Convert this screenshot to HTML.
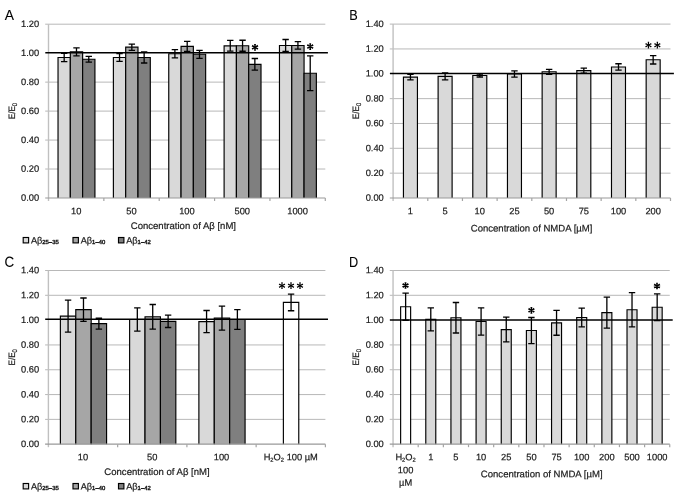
<!DOCTYPE html>
<html><head><meta charset="utf-8"><title>Figure</title>
<style>
html,body{margin:0;padding:0;background:#fff;}
body{width:685px;height:502px;overflow:hidden;font-family:"Liberation Sans", sans-serif;}
svg text{stroke:#1a1a1a;stroke-width:0.2px;}
svg{display:block;will-change:transform;font-family:"Liberation Sans", sans-serif;}
</style></head><body>
<svg width="685" height="502" viewBox="0 0 685 502">
<rect x="0" y="0" width="685" height="502" fill="#ffffff"/>
<line x1="45.20" y1="169.03" x2="325.30" y2="169.03" stroke="#a6a6a6" stroke-width="0.8"/>
<line x1="45.20" y1="140.07" x2="325.30" y2="140.07" stroke="#a6a6a6" stroke-width="0.8"/>
<line x1="45.20" y1="111.10" x2="325.30" y2="111.10" stroke="#a6a6a6" stroke-width="0.8"/>
<line x1="45.20" y1="82.13" x2="325.30" y2="82.13" stroke="#a6a6a6" stroke-width="0.8"/>
<line x1="45.20" y1="24.20" x2="325.30" y2="24.20" stroke="#a6a6a6" stroke-width="0.8"/>
<text transform="rotate(0.03 39.20 200.85)" x="39.20" y="200.85" font-size="9.3" text-anchor="end" fill="#1a1a1a">0.00</text>
<text transform="rotate(0.03 39.20 171.88)" x="39.20" y="171.88" font-size="9.3" text-anchor="end" fill="#1a1a1a">0.20</text>
<text transform="rotate(0.03 39.20 142.92)" x="39.20" y="142.92" font-size="9.3" text-anchor="end" fill="#1a1a1a">0.40</text>
<text transform="rotate(0.03 39.20 113.95)" x="39.20" y="113.95" font-size="9.3" text-anchor="end" fill="#1a1a1a">0.60</text>
<text transform="rotate(0.03 39.20 84.98)" x="39.20" y="84.98" font-size="9.3" text-anchor="end" fill="#1a1a1a">0.80</text>
<text transform="rotate(0.03 39.20 56.02)" x="39.20" y="56.02" font-size="9.3" text-anchor="end" fill="#1a1a1a">1.00</text>
<text transform="rotate(0.03 39.20 27.05)" x="39.20" y="27.05" font-size="9.3" text-anchor="end" fill="#1a1a1a">1.20</text>
<text transform="translate(4.8,20.1) rotate(0.03) scale(0.95,1)" font-size="14.6" fill="#000" style="stroke-width:0.1px">A</text>
<text transform="translate(14.80,111.10) rotate(-90.03)" font-size="9.3" text-anchor="middle" textLength="16.4" lengthAdjust="spacingAndGlyphs" fill="#1a1a1a">E/E<tspan font-size="6.6" dy="1.9">0</tspan></text>
<rect x="58.03" y="57.48" width="12.30" height="140.52" fill="#d9d9d9"/>
<path d="M58.03 198.00V57.48H70.33V198.00" fill="none" stroke="#000000" stroke-width="1.15"/>
<rect x="70.33" y="51.83" width="12.30" height="146.17" fill="#a6a6a6"/>
<path d="M70.33 198.00V51.83H82.63V198.00" fill="none" stroke="#000000" stroke-width="1.15"/>
<rect x="82.63" y="59.22" width="12.30" height="138.78" fill="#7f7f7f"/>
<path d="M82.63 198.00V59.22H94.93V198.00" fill="none" stroke="#000000" stroke-width="1.15"/>
<rect x="113.39" y="57.48" width="12.30" height="140.52" fill="#d9d9d9"/>
<path d="M113.39 198.00V57.48H125.69V198.00" fill="none" stroke="#000000" stroke-width="1.15"/>
<rect x="125.69" y="47.19" width="12.30" height="150.81" fill="#a6a6a6"/>
<path d="M125.69 198.00V47.19H137.99V198.00" fill="none" stroke="#000000" stroke-width="1.15"/>
<rect x="137.99" y="57.48" width="12.30" height="140.52" fill="#7f7f7f"/>
<path d="M137.99 198.00V57.48H150.29V198.00" fill="none" stroke="#000000" stroke-width="1.15"/>
<rect x="168.75" y="53.72" width="12.30" height="144.28" fill="#d9d9d9"/>
<path d="M168.75 198.00V53.72H181.05V198.00" fill="none" stroke="#000000" stroke-width="1.15"/>
<rect x="181.05" y="46.36" width="12.30" height="151.64" fill="#a6a6a6"/>
<path d="M181.05 198.00V46.36H193.35V198.00" fill="none" stroke="#000000" stroke-width="1.15"/>
<rect x="193.35" y="54.29" width="12.30" height="143.71" fill="#7f7f7f"/>
<path d="M193.35 198.00V54.29H205.65V198.00" fill="none" stroke="#000000" stroke-width="1.15"/>
<rect x="224.11" y="45.81" width="12.30" height="152.19" fill="#d9d9d9"/>
<path d="M224.11 198.00V45.81H236.41V198.00" fill="none" stroke="#000000" stroke-width="1.15"/>
<rect x="236.41" y="45.74" width="12.30" height="152.26" fill="#a6a6a6"/>
<path d="M236.41 198.00V45.74H248.71V198.00" fill="none" stroke="#000000" stroke-width="1.15"/>
<rect x="248.71" y="64.30" width="12.30" height="133.70" fill="#7f7f7f"/>
<path d="M248.71 198.00V64.30H261.01V198.00" fill="none" stroke="#000000" stroke-width="1.15"/>
<rect x="279.47" y="45.45" width="12.30" height="152.55" fill="#d9d9d9"/>
<path d="M279.47 198.00V45.45H291.77V198.00" fill="none" stroke="#000000" stroke-width="1.15"/>
<rect x="291.77" y="45.45" width="12.30" height="152.55" fill="#a6a6a6"/>
<path d="M291.77 198.00V45.45H304.07V198.00" fill="none" stroke="#000000" stroke-width="1.15"/>
<rect x="304.07" y="73.29" width="12.30" height="124.71" fill="#7f7f7f"/>
<path d="M304.07 198.00V73.29H316.37V198.00" fill="none" stroke="#000000" stroke-width="1.15"/>
<line x1="48.50" y1="24.20" x2="48.50" y2="201.00" stroke="#c0c0c0" stroke-width="1.4"/>
<line x1="45.20" y1="198.00" x2="325.30" y2="198.00" stroke="#999999" stroke-width="1.2"/>
<line x1="103.86" y1="198.00" x2="103.86" y2="201.00" stroke="#a4a4a4" stroke-width="1.2"/>
<line x1="159.22" y1="198.00" x2="159.22" y2="201.00" stroke="#a4a4a4" stroke-width="1.2"/>
<line x1="214.58" y1="198.00" x2="214.58" y2="201.00" stroke="#a4a4a4" stroke-width="1.2"/>
<line x1="269.94" y1="198.00" x2="269.94" y2="201.00" stroke="#a4a4a4" stroke-width="1.2"/>
<line x1="325.30" y1="198.00" x2="325.30" y2="201.00" stroke="#a4a4a4" stroke-width="1.2"/>
<line x1="45.30" y1="52.80" x2="327.90" y2="52.80" stroke="#000" stroke-width="1.5"/>
<path d="M64.18 53.28V61.69M60.98 53.28H67.38M60.98 61.69H67.38" stroke="#000" stroke-width="1.3" fill="none"/>
<path d="M76.48 47.84V55.82M73.28 47.84H79.68M73.28 55.82H79.68" stroke="#000" stroke-width="1.3" fill="none"/>
<path d="M88.78 56.32V62.12M85.58 56.32H91.98M85.58 62.12H91.98" stroke="#000" stroke-width="1.3" fill="none"/>
<path d="M119.54 53.50V61.47M116.34 53.50H122.74M116.34 61.47H122.74" stroke="#000" stroke-width="1.3" fill="none"/>
<path d="M131.84 44.09V50.29M128.64 44.09H135.04M128.64 50.29H135.04" stroke="#000" stroke-width="1.3" fill="none"/>
<path d="M144.14 51.97V63.00M140.94 51.97H147.34M140.94 63.00H147.34" stroke="#000" stroke-width="1.3" fill="none"/>
<path d="M174.90 49.61V57.82M171.70 49.61H178.10M171.70 57.82H178.10" stroke="#000" stroke-width="1.3" fill="none"/>
<path d="M187.20 41.33V51.39M184.00 41.33H190.40M184.00 51.39H190.40" stroke="#000" stroke-width="1.3" fill="none"/>
<path d="M199.50 50.29V58.30M196.30 50.29H202.70M196.30 58.30H202.70" stroke="#000" stroke-width="1.3" fill="none"/>
<path d="M230.26 40.45V51.18M227.06 40.45H233.46M227.06 51.18H233.46" stroke="#000" stroke-width="1.3" fill="none"/>
<path d="M242.56 40.23V51.25M239.36 40.23H245.76M239.36 51.25H245.76" stroke="#000" stroke-width="1.3" fill="none"/>
<path d="M254.86 58.50V70.10M251.66 58.50H258.06M251.66 70.10H258.06" stroke="#000" stroke-width="1.3" fill="none"/>
<path d="M285.62 39.50V51.39M282.42 39.50H288.82M282.42 51.39H288.82" stroke="#000" stroke-width="1.3" fill="none"/>
<path d="M297.92 41.68V49.22M294.72 41.68H301.12M294.72 49.22H301.12" stroke="#000" stroke-width="1.3" fill="none"/>
<path d="M310.22 55.89V90.69M307.02 55.89H313.42M307.02 90.69H313.42" stroke="#000" stroke-width="1.3" fill="none"/>
<path d="M255.45 47.30L255.95 43.95L254.05 43.95L254.55 47.30ZM255.22 47.69L258.38 46.45L257.43 44.80L254.78 46.91ZM255.22 46.91L252.57 44.80L251.62 46.45L254.78 47.69ZM254.78 46.91L251.62 48.15L252.57 49.80L255.22 47.69ZM254.55 47.30L254.05 50.65L255.95 50.65L255.45 47.30ZM254.78 47.69L257.43 49.80L258.38 48.15L255.22 46.91Z" fill="#000"/>
<path d="M310.65 46.60L311.15 43.25L309.25 43.25L309.75 46.60ZM310.43 46.99L313.58 45.75L312.63 44.10L309.97 46.21ZM310.43 46.21L307.77 44.10L306.82 45.75L309.97 46.99ZM309.97 46.21L306.82 47.45L307.77 49.10L310.43 46.99ZM309.75 46.60L309.25 49.95L311.15 49.95L310.65 46.60ZM309.97 46.99L312.63 49.10L313.58 47.45L310.43 46.21Z" fill="#000"/>
<text transform="rotate(0.03 76.18 214.20)" x="76.18" y="214.20" font-size="9.3" text-anchor="middle" fill="#1a1a1a">10</text>
<text transform="rotate(0.03 131.54 214.20)" x="131.54" y="214.20" font-size="9.3" text-anchor="middle" fill="#1a1a1a">50</text>
<text transform="rotate(0.03 186.90 214.20)" x="186.90" y="214.20" font-size="9.3" text-anchor="middle" fill="#1a1a1a">100</text>
<text transform="rotate(0.03 242.26 214.20)" x="242.26" y="214.20" font-size="9.3" text-anchor="middle" fill="#1a1a1a">500</text>
<text transform="rotate(0.03 297.62 214.20)" x="297.62" y="214.20" font-size="9.3" text-anchor="middle" fill="#1a1a1a">1000</text>
<text transform="rotate(0.03 183.4 229.0)" x="183.4" y="229.0" font-size="9.55" text-anchor="middle" fill="#1a1a1a">Concentration of Aβ [nM]</text>
<rect x="23.20" y="237.50" width="5.4" height="5.4" fill="#d9d9d9" stroke="#000" stroke-width="1.15"/>
<text transform="rotate(0.03 30.90 243.40)" x="30.90" y="243.40" font-size="9.2" fill="#1a1a1a">Aβ<tspan font-size="5.9" dy="0.7" style="stroke-width:0.4px">25–35</tspan></text>
<rect x="73.00" y="237.50" width="5.4" height="5.4" fill="#a6a6a6" stroke="#000" stroke-width="1.15"/>
<text transform="rotate(0.03 80.70 243.40)" x="80.70" y="243.40" font-size="9.2" fill="#1a1a1a">Aβ<tspan font-size="5.9" dy="0.7" style="stroke-width:0.4px">1–40</tspan></text>
<rect x="118.50" y="237.50" width="5.4" height="5.4" fill="#7f7f7f" stroke="#000" stroke-width="1.15"/>
<text transform="rotate(0.03 126.20 243.40)" x="126.20" y="243.40" font-size="9.2" fill="#1a1a1a">Aβ<tspan font-size="5.9" dy="0.7" style="stroke-width:0.4px">1–42</tspan></text>
<line x1="389.80" y1="173.16" x2="670.50" y2="173.16" stroke="#a6a6a6" stroke-width="0.8"/>
<line x1="389.80" y1="148.31" x2="670.50" y2="148.31" stroke="#a6a6a6" stroke-width="0.8"/>
<line x1="389.80" y1="123.47" x2="670.50" y2="123.47" stroke="#a6a6a6" stroke-width="0.8"/>
<line x1="389.80" y1="98.63" x2="670.50" y2="98.63" stroke="#a6a6a6" stroke-width="0.8"/>
<line x1="389.80" y1="48.94" x2="670.50" y2="48.94" stroke="#a6a6a6" stroke-width="0.8"/>
<line x1="389.80" y1="24.10" x2="670.50" y2="24.10" stroke="#a6a6a6" stroke-width="0.8"/>
<text transform="rotate(0.03 383.80 200.85)" x="383.80" y="200.85" font-size="9.3" text-anchor="end" fill="#1a1a1a">0.00</text>
<text transform="rotate(0.03 383.80 176.01)" x="383.80" y="176.01" font-size="9.3" text-anchor="end" fill="#1a1a1a">0.20</text>
<text transform="rotate(0.03 383.80 151.16)" x="383.80" y="151.16" font-size="9.3" text-anchor="end" fill="#1a1a1a">0.40</text>
<text transform="rotate(0.03 383.80 126.32)" x="383.80" y="126.32" font-size="9.3" text-anchor="end" fill="#1a1a1a">0.60</text>
<text transform="rotate(0.03 383.80 101.48)" x="383.80" y="101.48" font-size="9.3" text-anchor="end" fill="#1a1a1a">0.80</text>
<text transform="rotate(0.03 383.80 76.64)" x="383.80" y="76.64" font-size="9.3" text-anchor="end" fill="#1a1a1a">1.00</text>
<text transform="rotate(0.03 383.80 51.79)" x="383.80" y="51.79" font-size="9.3" text-anchor="end" fill="#1a1a1a">1.20</text>
<text transform="rotate(0.03 383.80 26.95)" x="383.80" y="26.95" font-size="9.3" text-anchor="end" fill="#1a1a1a">1.40</text>
<text transform="translate(349.3,20.2) rotate(0.03) scale(0.87,1)" font-size="14.6" fill="#000" style="stroke-width:0.1px">B</text>
<text transform="translate(359.40,111.05) rotate(-90.03)" font-size="9.3" text-anchor="middle" textLength="16.4" lengthAdjust="spacingAndGlyphs" fill="#1a1a1a">E/E<tspan font-size="6.6" dy="1.9">0</tspan></text>
<rect x="403.44" y="77.12" width="14.00" height="120.88" fill="#d9d9d9"/>
<path d="M403.44 198.00V77.12H417.44V198.00" fill="none" stroke="#000000" stroke-width="1.15"/>
<rect x="438.11" y="76.38" width="14.00" height="121.62" fill="#d9d9d9"/>
<path d="M438.11 198.00V76.38H452.11V198.00" fill="none" stroke="#000000" stroke-width="1.15"/>
<rect x="472.79" y="75.51" width="14.00" height="122.49" fill="#d9d9d9"/>
<path d="M472.79 198.00V75.51H486.79V198.00" fill="none" stroke="#000000" stroke-width="1.15"/>
<rect x="507.46" y="74.02" width="14.00" height="123.98" fill="#d9d9d9"/>
<path d="M507.46 198.00V74.02H521.46V198.00" fill="none" stroke="#000000" stroke-width="1.15"/>
<rect x="542.14" y="71.79" width="14.00" height="126.21" fill="#d9d9d9"/>
<path d="M542.14 198.00V71.79H556.14V198.00" fill="none" stroke="#000000" stroke-width="1.15"/>
<rect x="576.81" y="70.67" width="14.00" height="127.33" fill="#d9d9d9"/>
<path d="M576.81 198.00V70.67H590.81V198.00" fill="none" stroke="#000000" stroke-width="1.15"/>
<rect x="611.49" y="66.95" width="14.00" height="131.05" fill="#d9d9d9"/>
<path d="M611.49 198.00V66.95H625.49V198.00" fill="none" stroke="#000000" stroke-width="1.15"/>
<rect x="646.16" y="59.76" width="14.00" height="138.24" fill="#d9d9d9"/>
<path d="M646.16 198.00V59.76H660.16V198.00" fill="none" stroke="#000000" stroke-width="1.15"/>
<line x1="393.10" y1="24.10" x2="393.10" y2="201.00" stroke="#c0c0c0" stroke-width="1.4"/>
<line x1="389.80" y1="198.00" x2="670.50" y2="198.00" stroke="#999999" stroke-width="1.2"/>
<line x1="427.78" y1="198.00" x2="427.78" y2="201.00" stroke="#a4a4a4" stroke-width="1.2"/>
<line x1="462.45" y1="198.00" x2="462.45" y2="201.00" stroke="#a4a4a4" stroke-width="1.2"/>
<line x1="497.12" y1="198.00" x2="497.12" y2="201.00" stroke="#a4a4a4" stroke-width="1.2"/>
<line x1="531.80" y1="198.00" x2="531.80" y2="201.00" stroke="#a4a4a4" stroke-width="1.2"/>
<line x1="566.48" y1="198.00" x2="566.48" y2="201.00" stroke="#a4a4a4" stroke-width="1.2"/>
<line x1="601.15" y1="198.00" x2="601.15" y2="201.00" stroke="#a4a4a4" stroke-width="1.2"/>
<line x1="635.83" y1="198.00" x2="635.83" y2="201.00" stroke="#a4a4a4" stroke-width="1.2"/>
<line x1="670.50" y1="198.00" x2="670.50" y2="201.00" stroke="#a4a4a4" stroke-width="1.2"/>
<line x1="389.90" y1="73.55" x2="673.90" y2="73.55" stroke="#000" stroke-width="1.5"/>
<path d="M410.44 74.39V79.85M407.24 74.39H413.64M407.24 79.85H413.64" stroke="#000" stroke-width="1.3" fill="none"/>
<path d="M445.11 72.90V79.85M441.91 72.90H448.31M441.91 79.85H448.31" stroke="#000" stroke-width="1.3" fill="none"/>
<path d="M479.79 74.02V77.00M476.59 74.02H482.99M476.59 77.00H482.99" stroke="#000" stroke-width="1.3" fill="none"/>
<path d="M514.46 70.92V77.12M511.26 70.92H517.66M511.26 77.12H517.66" stroke="#000" stroke-width="1.3" fill="none"/>
<path d="M549.14 69.31V74.27M545.94 69.31H552.34M545.94 74.27H552.34" stroke="#000" stroke-width="1.3" fill="none"/>
<path d="M583.81 68.19V73.15M580.61 68.19H587.01M580.61 73.15H587.01" stroke="#000" stroke-width="1.3" fill="none"/>
<path d="M618.49 63.73V70.18M615.29 63.73H621.69M615.29 70.18H621.69" stroke="#000" stroke-width="1.3" fill="none"/>
<path d="M653.16 55.54V63.98M649.96 55.54H656.36M649.96 63.98H656.36" stroke="#000" stroke-width="1.3" fill="none"/>
<path d="M648.85 45.20L649.17 41.85L647.73 41.85L648.05 45.20ZM648.65 45.55L651.71 44.15L650.99 42.90L648.25 44.85ZM648.65 44.85L645.91 42.90L645.19 44.15L648.25 45.55ZM648.25 44.85L645.19 46.25L645.91 47.50L648.65 45.55ZM648.05 45.20L647.73 48.55L649.17 48.55L648.85 45.20ZM648.25 45.55L650.99 47.50L651.71 46.25L648.65 44.85Z" fill="#000"/>
<path d="M657.75 45.20L658.07 41.85L656.63 41.85L656.95 45.20ZM657.55 45.55L660.61 44.15L659.89 42.90L657.15 44.85ZM657.55 44.85L654.81 42.90L654.09 44.15L657.15 45.55ZM657.15 44.85L654.09 46.25L654.81 47.50L657.55 45.55ZM656.95 45.20L656.63 48.55L658.07 48.55L657.75 45.20ZM657.15 45.55L659.89 47.50L660.61 46.25L657.55 44.85Z" fill="#000"/>
<text transform="rotate(0.03 410.44 214.20)" x="410.44" y="214.20" font-size="9.3" text-anchor="middle" fill="#1a1a1a">1</text>
<text transform="rotate(0.03 445.11 214.20)" x="445.11" y="214.20" font-size="9.3" text-anchor="middle" fill="#1a1a1a">5</text>
<text transform="rotate(0.03 479.79 214.20)" x="479.79" y="214.20" font-size="9.3" text-anchor="middle" fill="#1a1a1a">10</text>
<text transform="rotate(0.03 514.46 214.20)" x="514.46" y="214.20" font-size="9.3" text-anchor="middle" fill="#1a1a1a">25</text>
<text transform="rotate(0.03 549.14 214.20)" x="549.14" y="214.20" font-size="9.3" text-anchor="middle" fill="#1a1a1a">50</text>
<text transform="rotate(0.03 583.81 214.20)" x="583.81" y="214.20" font-size="9.3" text-anchor="middle" fill="#1a1a1a">75</text>
<text transform="rotate(0.03 618.49 214.20)" x="618.49" y="214.20" font-size="9.3" text-anchor="middle" fill="#1a1a1a">100</text>
<text transform="rotate(0.03 653.16 214.20)" x="653.16" y="214.20" font-size="9.3" text-anchor="middle" fill="#1a1a1a">200</text>
<text transform="rotate(0.03 531.6 231.6)" x="531.6" y="231.6" font-size="9.55" text-anchor="middle" fill="#1a1a1a">Concentration of NMDA [µM]</text>
<line x1="45.10" y1="419.39" x2="325.40" y2="419.39" stroke="#a6a6a6" stroke-width="0.8"/>
<line x1="45.10" y1="394.57" x2="325.40" y2="394.57" stroke="#a6a6a6" stroke-width="0.8"/>
<line x1="45.10" y1="369.76" x2="325.40" y2="369.76" stroke="#a6a6a6" stroke-width="0.8"/>
<line x1="45.10" y1="344.94" x2="325.40" y2="344.94" stroke="#a6a6a6" stroke-width="0.8"/>
<line x1="45.10" y1="295.31" x2="325.40" y2="295.31" stroke="#a6a6a6" stroke-width="0.8"/>
<line x1="45.10" y1="270.50" x2="325.40" y2="270.50" stroke="#a6a6a6" stroke-width="0.8"/>
<text transform="rotate(0.03 39.10 447.05)" x="39.10" y="447.05" font-size="9.3" text-anchor="end" fill="#1a1a1a">0.00</text>
<text transform="rotate(0.03 39.10 422.24)" x="39.10" y="422.24" font-size="9.3" text-anchor="end" fill="#1a1a1a">0.20</text>
<text transform="rotate(0.03 39.10 397.42)" x="39.10" y="397.42" font-size="9.3" text-anchor="end" fill="#1a1a1a">0.40</text>
<text transform="rotate(0.03 39.10 372.61)" x="39.10" y="372.61" font-size="9.3" text-anchor="end" fill="#1a1a1a">0.60</text>
<text transform="rotate(0.03 39.10 347.79)" x="39.10" y="347.79" font-size="9.3" text-anchor="end" fill="#1a1a1a">0.80</text>
<text transform="rotate(0.03 39.10 322.98)" x="39.10" y="322.98" font-size="9.3" text-anchor="end" fill="#1a1a1a">1.00</text>
<text transform="rotate(0.03 39.10 298.16)" x="39.10" y="298.16" font-size="9.3" text-anchor="end" fill="#1a1a1a">1.20</text>
<text transform="rotate(0.03 39.10 273.35)" x="39.10" y="273.35" font-size="9.3" text-anchor="end" fill="#1a1a1a">1.40</text>
<text transform="translate(4.4,266.8) rotate(0.03) scale(0.92,1)" font-size="14.6" fill="#000" style="stroke-width:0.1px">C</text>
<text transform="translate(14.70,357.35) rotate(-90.03)" font-size="9.3" text-anchor="middle" textLength="16.4" lengthAdjust="spacingAndGlyphs" fill="#1a1a1a">E/E<tspan font-size="6.6" dy="1.9">0</tspan></text>
<rect x="60.38" y="316.18" width="15.40" height="128.02" fill="#d9d9d9"/>
<path d="M60.38 444.20V316.18H75.78V444.20" fill="none" stroke="#000000" stroke-width="1.15"/>
<rect x="75.78" y="309.66" width="15.40" height="134.54" fill="#a6a6a6"/>
<path d="M75.78 444.20V309.66H91.18V444.20" fill="none" stroke="#000000" stroke-width="1.15"/>
<rect x="91.17" y="323.68" width="15.40" height="120.52" fill="#7f7f7f"/>
<path d="M91.17 444.20V323.68H106.58V444.20" fill="none" stroke="#000000" stroke-width="1.15"/>
<rect x="129.62" y="319.50" width="15.40" height="124.70" fill="#d9d9d9"/>
<path d="M129.62 444.20V319.50H145.03V444.20" fill="none" stroke="#000000" stroke-width="1.15"/>
<rect x="145.03" y="316.79" width="15.40" height="127.41" fill="#a6a6a6"/>
<path d="M145.03 444.20V316.79H160.43V444.20" fill="none" stroke="#000000" stroke-width="1.15"/>
<rect x="160.43" y="321.35" width="15.40" height="122.85" fill="#7f7f7f"/>
<path d="M160.43 444.20V321.35H175.83V444.20" fill="none" stroke="#000000" stroke-width="1.15"/>
<rect x="198.88" y="321.59" width="15.40" height="122.61" fill="#d9d9d9"/>
<path d="M198.88 444.20V321.59H214.28V444.20" fill="none" stroke="#000000" stroke-width="1.15"/>
<rect x="214.28" y="318.15" width="15.40" height="126.05" fill="#a6a6a6"/>
<path d="M214.28 444.20V318.15H229.68V444.20" fill="none" stroke="#000000" stroke-width="1.15"/>
<rect x="229.68" y="319.50" width="15.40" height="124.70" fill="#7f7f7f"/>
<path d="M229.68 444.20V319.50H245.08V444.20" fill="none" stroke="#000000" stroke-width="1.15"/>
<rect x="283.38" y="302.40" width="15.40" height="141.80" fill="#ffffff"/>
<path d="M283.38 444.20V302.40H298.77V444.20" fill="none" stroke="#000000" stroke-width="1.15"/>
<line x1="48.40" y1="270.50" x2="48.40" y2="447.20" stroke="#c0c0c0" stroke-width="1.4"/>
<line x1="45.10" y1="444.20" x2="325.40" y2="444.20" stroke="#999999" stroke-width="1.2"/>
<line x1="117.65" y1="444.20" x2="117.65" y2="447.20" stroke="#a4a4a4" stroke-width="1.2"/>
<line x1="186.90" y1="444.20" x2="186.90" y2="447.20" stroke="#a4a4a4" stroke-width="1.2"/>
<line x1="256.15" y1="444.20" x2="256.15" y2="447.20" stroke="#a4a4a4" stroke-width="1.2"/>
<line x1="325.40" y1="444.20" x2="325.40" y2="447.20" stroke="#a4a4a4" stroke-width="1.2"/>
<line x1="45.20" y1="319.30" x2="328.00" y2="319.30" stroke="#000" stroke-width="1.5"/>
<path d="M68.08 300.19V332.17M64.88 300.19H71.28M64.88 332.17H71.28" stroke="#000" stroke-width="1.3" fill="none"/>
<path d="M83.48 297.98V321.34M80.28 297.98H86.68M80.28 321.34H86.68" stroke="#000" stroke-width="1.3" fill="none"/>
<path d="M98.88 318.27V329.09M95.67 318.27H102.08M95.67 329.09H102.08" stroke="#000" stroke-width="1.3" fill="none"/>
<path d="M137.32 307.81V331.19M134.12 307.81H140.52M134.12 331.19H140.52" stroke="#000" stroke-width="1.3" fill="none"/>
<path d="M152.72 304.49V329.09M149.53 304.49H155.92M149.53 329.09H155.92" stroke="#000" stroke-width="1.3" fill="none"/>
<path d="M168.12 315.19V327.50M164.93 315.19H171.32M164.93 327.50H171.32" stroke="#000" stroke-width="1.3" fill="none"/>
<path d="M206.57 310.52V332.66M203.38 310.52H209.77M203.38 332.66H209.77" stroke="#000" stroke-width="1.3" fill="none"/>
<path d="M221.97 306.09V330.20M218.78 306.09H225.17M218.78 330.20H225.17" stroke="#000" stroke-width="1.3" fill="none"/>
<path d="M237.38 309.66V329.34M234.18 309.66H240.57M234.18 329.34H240.57" stroke="#000" stroke-width="1.3" fill="none"/>
<path d="M291.07 294.04V310.77M287.88 294.04H294.27M287.88 310.77H294.27" stroke="#000" stroke-width="1.3" fill="none"/>
<path d="M282.40 285.70L282.72 282.35L281.28 282.35L281.60 285.70ZM282.20 286.05L285.26 284.65L284.54 283.40L281.80 285.35ZM282.20 285.35L279.46 283.40L278.74 284.65L281.80 286.05ZM281.80 285.35L278.74 286.75L279.46 288.00L282.20 286.05ZM281.60 285.70L281.28 289.05L282.72 289.05L282.40 285.70ZM281.80 286.05L284.54 288.00L285.26 286.75L282.20 285.35Z" fill="#000"/>
<path d="M291.40 285.70L291.72 282.35L290.28 282.35L290.60 285.70ZM291.20 286.05L294.26 284.65L293.54 283.40L290.80 285.35ZM291.20 285.35L288.46 283.40L287.74 284.65L290.80 286.05ZM290.80 285.35L287.74 286.75L288.46 288.00L291.20 286.05ZM290.60 285.70L290.28 289.05L291.72 289.05L291.40 285.70ZM290.80 286.05L293.54 288.00L294.26 286.75L291.20 285.35Z" fill="#000"/>
<path d="M300.40 285.70L300.72 282.35L299.28 282.35L299.60 285.70ZM300.20 286.05L303.26 284.65L302.54 283.40L299.80 285.35ZM300.20 285.35L297.46 283.40L296.74 284.65L299.80 286.05ZM299.80 285.35L296.74 286.75L297.46 288.00L300.20 286.05ZM299.60 285.70L299.28 289.05L300.72 289.05L300.40 285.70ZM299.80 286.05L302.54 288.00L303.26 286.75L300.20 285.35Z" fill="#000"/>
<text transform="rotate(0.03 83.03 460.20)" x="83.03" y="460.20" font-size="9.3" text-anchor="middle" fill="#1a1a1a">10</text>
<text transform="rotate(0.03 152.28 460.20)" x="152.28" y="460.20" font-size="9.3" text-anchor="middle" fill="#1a1a1a">50</text>
<text transform="rotate(0.03 221.53 460.20)" x="221.53" y="460.20" font-size="9.3" text-anchor="middle" fill="#1a1a1a">100</text>
<text transform="rotate(0.03 290.77 460.20)" x="290.77" y="460.20" font-size="9.3" text-anchor="middle" fill="#1a1a1a">H<tspan font-size="5.8" dy="1.6">2</tspan><tspan dy="-1.6">O</tspan><tspan font-size="5.8" dy="1.6">2</tspan><tspan dy="-1.6"> 100 µM</tspan></text>
<text transform="rotate(0.03 157 475.0)" x="157" y="475.0" font-size="9.55" text-anchor="middle" fill="#1a1a1a">Concentration of Aβ [nM]</text>
<rect x="23.20" y="483.50" width="5.4" height="5.4" fill="#d9d9d9" stroke="#000" stroke-width="1.15"/>
<text transform="rotate(0.03 30.90 489.40)" x="30.90" y="489.40" font-size="9.2" fill="#1a1a1a">Aβ<tspan font-size="5.9" dy="0.7" style="stroke-width:0.4px">25–35</tspan></text>
<rect x="73.00" y="483.50" width="5.4" height="5.4" fill="#a6a6a6" stroke="#000" stroke-width="1.15"/>
<text transform="rotate(0.03 80.70 489.40)" x="80.70" y="489.40" font-size="9.2" fill="#1a1a1a">Aβ<tspan font-size="5.9" dy="0.7" style="stroke-width:0.4px">1–40</tspan></text>
<rect x="118.50" y="483.50" width="5.4" height="5.4" fill="#7f7f7f" stroke="#000" stroke-width="1.15"/>
<text transform="rotate(0.03 126.20 489.40)" x="126.20" y="489.40" font-size="9.2" fill="#1a1a1a">Aβ<tspan font-size="5.9" dy="0.7" style="stroke-width:0.4px">1–42</tspan></text>
<line x1="389.75" y1="419.34" x2="669.75" y2="419.34" stroke="#a6a6a6" stroke-width="0.8"/>
<line x1="389.75" y1="394.54" x2="669.75" y2="394.54" stroke="#a6a6a6" stroke-width="0.8"/>
<line x1="389.75" y1="369.73" x2="669.75" y2="369.73" stroke="#a6a6a6" stroke-width="0.8"/>
<line x1="389.75" y1="344.92" x2="669.75" y2="344.92" stroke="#a6a6a6" stroke-width="0.8"/>
<line x1="389.75" y1="295.31" x2="669.75" y2="295.31" stroke="#a6a6a6" stroke-width="0.8"/>
<line x1="389.75" y1="270.50" x2="669.75" y2="270.50" stroke="#a6a6a6" stroke-width="0.8"/>
<text transform="rotate(0.03 383.75 447.00)" x="383.75" y="447.00" font-size="9.3" text-anchor="end" fill="#1a1a1a">0.00</text>
<text transform="rotate(0.03 383.75 422.19)" x="383.75" y="422.19" font-size="9.3" text-anchor="end" fill="#1a1a1a">0.20</text>
<text transform="rotate(0.03 383.75 397.39)" x="383.75" y="397.39" font-size="9.3" text-anchor="end" fill="#1a1a1a">0.40</text>
<text transform="rotate(0.03 383.75 372.58)" x="383.75" y="372.58" font-size="9.3" text-anchor="end" fill="#1a1a1a">0.60</text>
<text transform="rotate(0.03 383.75 347.77)" x="383.75" y="347.77" font-size="9.3" text-anchor="end" fill="#1a1a1a">0.80</text>
<text transform="rotate(0.03 383.75 322.96)" x="383.75" y="322.96" font-size="9.3" text-anchor="end" fill="#1a1a1a">1.00</text>
<text transform="rotate(0.03 383.75 298.16)" x="383.75" y="298.16" font-size="9.3" text-anchor="end" fill="#1a1a1a">1.20</text>
<text transform="rotate(0.03 383.75 273.35)" x="383.75" y="273.35" font-size="9.3" text-anchor="end" fill="#1a1a1a">1.40</text>
<text transform="translate(349.0,266.8) rotate(0.03) scale(0.87,1)" font-size="14.6" fill="#000" style="stroke-width:0.1px">D</text>
<text transform="translate(359.35,357.32) rotate(-90.03)" font-size="9.3" text-anchor="middle" textLength="16.4" lengthAdjust="spacingAndGlyphs" fill="#1a1a1a">E/E<tspan font-size="6.6" dy="1.9">0</tspan></text>
<rect x="400.63" y="306.73" width="10.00" height="137.42" fill="#ffffff"/>
<path d="M400.63 444.15V306.73H410.63V444.15" fill="none" stroke="#000000" stroke-width="1.15"/>
<rect x="425.78" y="319.38" width="10.00" height="124.77" fill="#d9d9d9"/>
<path d="M425.78 444.15V319.38H435.78V444.15" fill="none" stroke="#000000" stroke-width="1.15"/>
<rect x="450.94" y="317.77" width="10.00" height="126.38" fill="#d9d9d9"/>
<path d="M450.94 444.15V317.77H460.94V444.15" fill="none" stroke="#000000" stroke-width="1.15"/>
<rect x="476.09" y="321.49" width="10.00" height="122.66" fill="#d9d9d9"/>
<path d="M476.09 444.15V321.49H486.09V444.15" fill="none" stroke="#000000" stroke-width="1.15"/>
<rect x="501.25" y="329.55" width="10.00" height="114.60" fill="#d9d9d9"/>
<path d="M501.25 444.15V329.55H511.25V444.15" fill="none" stroke="#000000" stroke-width="1.15"/>
<rect x="526.40" y="330.54" width="10.00" height="113.61" fill="#d9d9d9"/>
<path d="M526.40 444.15V330.54H536.40V444.15" fill="none" stroke="#000000" stroke-width="1.15"/>
<rect x="551.55" y="322.85" width="10.00" height="121.30" fill="#d9d9d9"/>
<path d="M551.55 444.15V322.85H561.55V444.15" fill="none" stroke="#000000" stroke-width="1.15"/>
<rect x="576.71" y="317.52" width="10.00" height="126.63" fill="#d9d9d9"/>
<path d="M576.71 444.15V317.52H586.71V444.15" fill="none" stroke="#000000" stroke-width="1.15"/>
<rect x="601.86" y="312.56" width="10.00" height="131.59" fill="#d9d9d9"/>
<path d="M601.86 444.15V312.56H611.86V444.15" fill="none" stroke="#000000" stroke-width="1.15"/>
<rect x="627.02" y="309.71" width="10.00" height="134.44" fill="#d9d9d9"/>
<path d="M627.02 444.15V309.71H637.02V444.15" fill="none" stroke="#000000" stroke-width="1.15"/>
<rect x="652.17" y="307.23" width="10.00" height="136.92" fill="#d9d9d9"/>
<path d="M652.17 444.15V307.23H662.17V444.15" fill="none" stroke="#000000" stroke-width="1.15"/>
<line x1="393.05" y1="270.50" x2="393.05" y2="447.15" stroke="#c0c0c0" stroke-width="1.4"/>
<line x1="389.75" y1="444.15" x2="669.75" y2="444.15" stroke="#999999" stroke-width="1.2"/>
<line x1="418.20" y1="444.15" x2="418.20" y2="447.15" stroke="#a4a4a4" stroke-width="1.2"/>
<line x1="443.36" y1="444.15" x2="443.36" y2="447.15" stroke="#a4a4a4" stroke-width="1.2"/>
<line x1="468.51" y1="444.15" x2="468.51" y2="447.15" stroke="#a4a4a4" stroke-width="1.2"/>
<line x1="493.67" y1="444.15" x2="493.67" y2="447.15" stroke="#a4a4a4" stroke-width="1.2"/>
<line x1="518.82" y1="444.15" x2="518.82" y2="447.15" stroke="#a4a4a4" stroke-width="1.2"/>
<line x1="543.98" y1="444.15" x2="543.98" y2="447.15" stroke="#a4a4a4" stroke-width="1.2"/>
<line x1="569.13" y1="444.15" x2="569.13" y2="447.15" stroke="#a4a4a4" stroke-width="1.2"/>
<line x1="594.29" y1="444.15" x2="594.29" y2="447.15" stroke="#a4a4a4" stroke-width="1.2"/>
<line x1="619.44" y1="444.15" x2="619.44" y2="447.15" stroke="#a4a4a4" stroke-width="1.2"/>
<line x1="644.60" y1="444.15" x2="644.60" y2="447.15" stroke="#a4a4a4" stroke-width="1.2"/>
<line x1="669.75" y1="444.15" x2="669.75" y2="447.15" stroke="#a4a4a4" stroke-width="1.2"/>
<line x1="389.85" y1="320.05" x2="672.70" y2="320.05" stroke="#000" stroke-width="1.5"/>
<path d="M405.63 293.22V320.25M402.43 293.22H408.83M402.43 320.25H408.83" stroke="#000" stroke-width="1.3" fill="none"/>
<path d="M430.78 307.85V330.91M427.58 307.85H433.98M427.58 330.91H433.98" stroke="#000" stroke-width="1.3" fill="none"/>
<path d="M455.94 302.52V333.02M452.74 302.52H459.14M452.74 333.02H459.14" stroke="#000" stroke-width="1.3" fill="none"/>
<path d="M481.09 307.85V335.13M477.89 307.85H484.29M477.89 335.13H484.29" stroke="#000" stroke-width="1.3" fill="none"/>
<path d="M506.25 317.15V341.95M503.05 317.15H509.45M503.05 341.95H509.45" stroke="#000" stroke-width="1.3" fill="none"/>
<path d="M531.40 317.52V343.56M528.20 317.52H534.60M528.20 343.56H534.60" stroke="#000" stroke-width="1.3" fill="none"/>
<path d="M556.55 310.45V335.25M553.35 310.45H559.75M553.35 335.25H559.75" stroke="#000" stroke-width="1.3" fill="none"/>
<path d="M581.71 308.22V326.82M578.51 308.22H584.91M578.51 326.82H584.91" stroke="#000" stroke-width="1.3" fill="none"/>
<path d="M606.86 297.06V328.06M603.66 297.06H610.06M603.66 328.06H610.06" stroke="#000" stroke-width="1.3" fill="none"/>
<path d="M632.02 292.60V326.82M628.82 292.60H635.22M628.82 326.82H635.22" stroke="#000" stroke-width="1.3" fill="none"/>
<path d="M657.17 293.84V320.62M653.97 293.84H660.37M653.97 320.62H660.37" stroke="#000" stroke-width="1.3" fill="none"/>
<path d="M405.95 285.50L406.45 282.15L404.55 282.15L405.05 285.50ZM405.73 285.89L408.88 284.65L407.93 283.00L405.27 285.11ZM405.73 285.11L403.07 283.00L402.12 284.65L405.27 285.89ZM405.27 285.11L402.12 286.35L403.07 288.00L405.73 285.89ZM405.05 285.50L404.55 288.85L406.45 288.85L405.95 285.50ZM405.27 285.89L407.93 288.00L408.88 286.35L405.73 285.11Z" fill="#000"/>
<path d="M531.85 310.30L532.35 306.95L530.45 306.95L530.95 310.30ZM531.62 310.69L534.78 309.45L533.83 307.80L531.17 309.91ZM531.62 309.91L528.97 307.80L528.02 309.45L531.17 310.69ZM531.17 309.91L528.02 311.15L528.97 312.80L531.62 310.69ZM530.95 310.30L530.45 313.65L532.35 313.65L531.85 310.30ZM531.17 310.69L533.83 312.80L534.78 311.15L531.62 309.91Z" fill="#000"/>
<path d="M657.45 286.00L657.95 282.65L656.05 282.65L656.55 286.00ZM657.23 286.39L660.38 285.15L659.43 283.50L656.77 285.61ZM657.23 285.61L654.57 283.50L653.62 285.15L656.77 286.39ZM656.77 285.61L653.62 286.85L654.57 288.50L657.23 286.39ZM656.55 286.00L656.05 289.35L657.95 289.35L657.45 286.00ZM656.77 286.39L659.43 288.50L660.38 286.85L657.23 285.61Z" fill="#000"/>
<text transform="rotate(0.03 430.78 460.20)" x="430.78" y="460.20" font-size="9.3" text-anchor="middle" fill="#1a1a1a">1</text>
<text transform="rotate(0.03 455.94 460.20)" x="455.94" y="460.20" font-size="9.3" text-anchor="middle" fill="#1a1a1a">5</text>
<text transform="rotate(0.03 481.09 460.20)" x="481.09" y="460.20" font-size="9.3" text-anchor="middle" fill="#1a1a1a">10</text>
<text transform="rotate(0.03 506.25 460.20)" x="506.25" y="460.20" font-size="9.3" text-anchor="middle" fill="#1a1a1a">25</text>
<text transform="rotate(0.03 531.40 460.20)" x="531.40" y="460.20" font-size="9.3" text-anchor="middle" fill="#1a1a1a">50</text>
<text transform="rotate(0.03 556.55 460.20)" x="556.55" y="460.20" font-size="9.3" text-anchor="middle" fill="#1a1a1a">75</text>
<text transform="rotate(0.03 581.71 460.20)" x="581.71" y="460.20" font-size="9.3" text-anchor="middle" fill="#1a1a1a">100</text>
<text transform="rotate(0.03 606.86 460.20)" x="606.86" y="460.20" font-size="9.3" text-anchor="middle" fill="#1a1a1a">200</text>
<text transform="rotate(0.03 632.02 460.20)" x="632.02" y="460.20" font-size="9.3" text-anchor="middle" fill="#1a1a1a">500</text>
<text transform="rotate(0.03 657.17 460.20)" x="657.17" y="460.20" font-size="9.3" text-anchor="middle" fill="#1a1a1a">1000</text>
<text transform="rotate(0.03 405.63 460.2)" x="405.63" y="460.2" font-size="9.3" text-anchor="middle" fill="#1a1a1a">H<tspan font-size="5.8" dy="1.6">2</tspan><tspan dy="-1.6">O</tspan><tspan font-size="5.8" dy="1.6">2</tspan></text>
<text transform="rotate(0.03 405.63 473.2)" x="405.63" y="473.2" font-size="9.3" text-anchor="middle" fill="#1a1a1a">100</text>
<text transform="rotate(0.03 405.63 485.8)" x="405.63" y="485.8" font-size="9.3" text-anchor="middle" fill="#1a1a1a">µM</text>
<text transform="rotate(0.03 541.7 477.2)" x="541.7" y="477.2" font-size="9.55" text-anchor="middle" fill="#1a1a1a">Concentration of NMDA [µM]</text>
</svg>
</body></html>
